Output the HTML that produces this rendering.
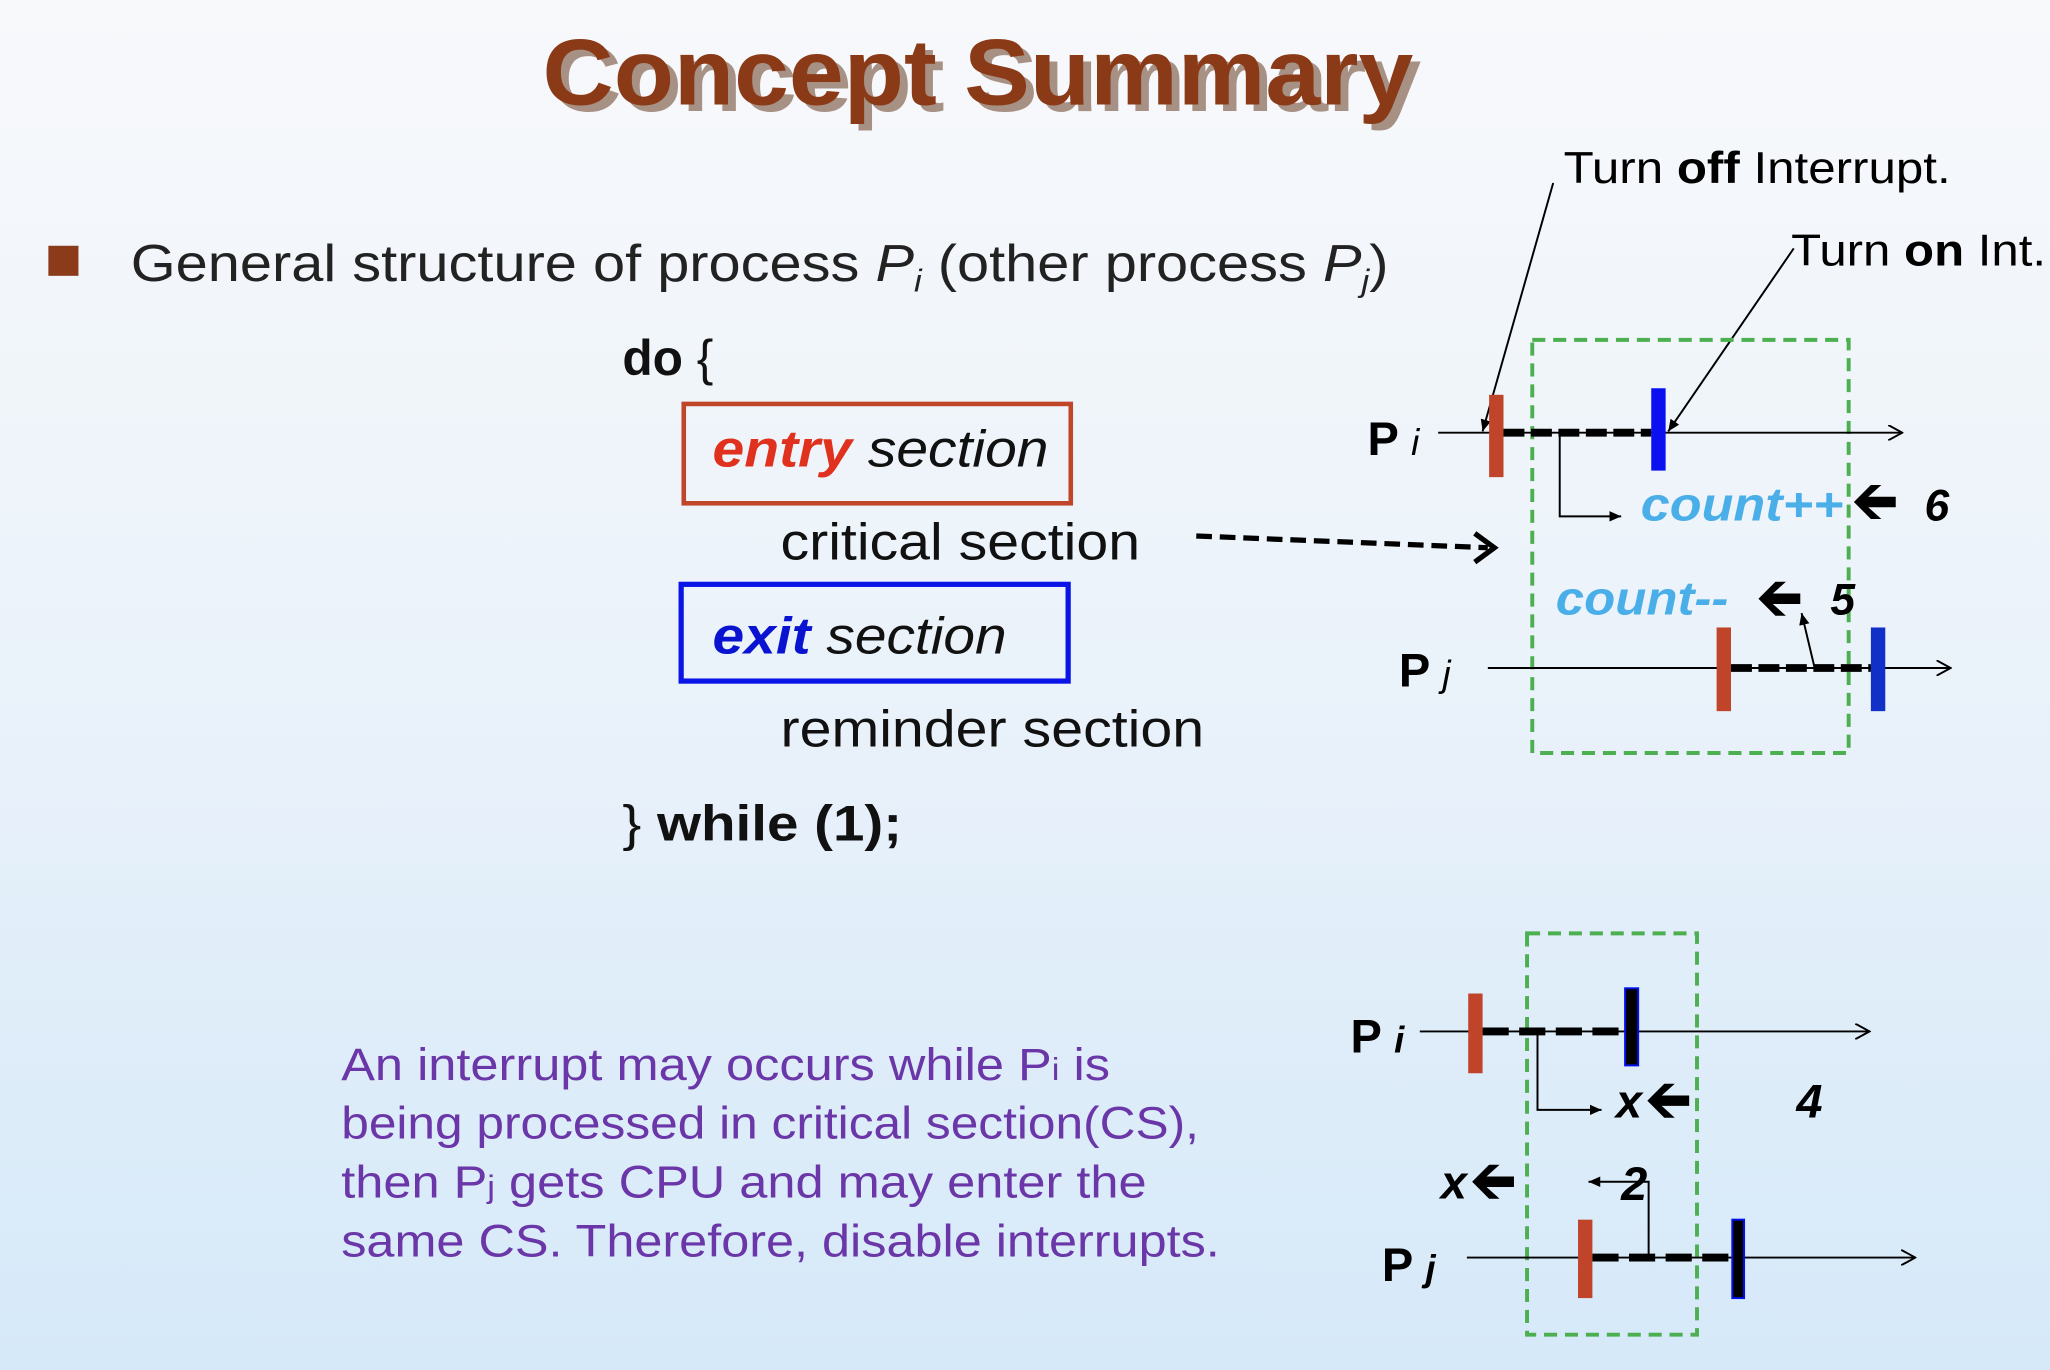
<!DOCTYPE html>
<html><head><meta charset="utf-8"><style>
html,body{margin:0;padding:0;width:2050px;height:1370px;overflow:hidden}
svg{display:block}
text{font-family:"Liberation Sans",sans-serif}
</style></head><body>
<svg width="2050" height="1370" viewBox="0 0 1568 1048" preserveAspectRatio="none" xmlns="http://www.w3.org/2000/svg">
<defs>
<linearGradient id="gt" x1="0" y1="0" x2="0" y2="1"><stop offset="0" stop-color="#f8f9fb"/><stop offset="1" stop-color="#e6f0fa"/></linearGradient>
<linearGradient id="gb" x1="0" y1="0" x2="0" y2="1"><stop offset="0" stop-color="#e3eff9"/><stop offset="1" stop-color="#d6e9f9"/></linearGradient>
<marker id="oa" markerWidth="12" markerHeight="12" refX="11" refY="6" orient="auto" markerUnits="userSpaceOnUse"><path d="M0,0 L11,6 L0,12" fill="none" stroke="#000" stroke-width="1.5"/></marker>
<marker id="sa" markerWidth="10" markerHeight="10" refX="9" refY="5" orient="auto" markerUnits="userSpaceOnUse"><path d="M0,1 L9,5 L0,9 Z" fill="#000"/></marker>
<path id="ta" d="M0,0 L13,-13 L21,-13 L11,-4 L32,-4 L32,4 L11,4 L21,13 L13,13 Z" fill="#000"/>
</defs>
<rect x="0" y="0" width="1568" height="662" fill="url(#gt)"/>
<rect x="0" y="662" width="1568" height="386" fill="url(#gb)"/>

<text x="418" y="82" font-size="72" font-weight="bold" fill="#5a2a10" opacity="0.5" textLength="666" lengthAdjust="spacingAndGlyphs" transform="translate(3,3)">Concept Summary</text>
<text x="415" y="80" font-size="72" font-weight="bold" fill="#8a3a16" textLength="666" lengthAdjust="spacingAndGlyphs">Concept Summary</text>

<rect x="37" y="188" width="23" height="23" fill="#8b3a1a"/>
<text x="100" y="215" font-size="40" fill="#222" textLength="962" lengthAdjust="spacingAndGlyphs">General structure of process <tspan font-style="italic">P</tspan><tspan font-style="italic" font-size="24" dy="8">i</tspan><tspan dy="-8"> (other process </tspan><tspan font-style="italic">P</tspan><tspan font-style="italic" font-size="24" dy="8">j</tspan><tspan dy="-8">)</tspan></text>

<text x="476" y="287" font-size="38" fill="#111"><tspan font-weight="bold">do</tspan> {</text>
<rect x="523" y="309" width="296" height="76" fill="none" stroke="#c0462a" stroke-width="3.5"/>
<text x="545" y="357" font-size="40" font-style="italic" fill="#111" textLength="257" lengthAdjust="spacingAndGlyphs"><tspan font-weight="bold" fill="#e0301e">entry</tspan> section</text>
<text x="597" y="428" font-size="40" fill="#111" textLength="275" lengthAdjust="spacingAndGlyphs">critical section</text>
<rect x="521" y="447" width="296" height="74" fill="none" stroke="#0a14e6" stroke-width="4"/>
<text x="545" y="500" font-size="40" font-style="italic" fill="#111" textLength="225" lengthAdjust="spacingAndGlyphs"><tspan font-weight="bold" fill="#0a14d0">exit</tspan> section</text>
<text x="597" y="571" font-size="40" fill="#111" textLength="324" lengthAdjust="spacingAndGlyphs">reminder section</text>
<text x="476" y="643" font-size="38" fill="#111" textLength="214" lengthAdjust="spacingAndGlyphs">} <tspan font-weight="bold">while (1);</tspan></text>

<line x1="915" y1="410" x2="1138" y2="419" stroke="#000" stroke-width="4" stroke-dasharray="12,6"/>
<path d="M1128,408 L1143,419 L1128,430" fill="none" stroke="#000" stroke-width="4"/>

<!-- top diagram -->
<text x="1196" y="140" font-size="34" fill="#000" textLength="296" lengthAdjust="spacingAndGlyphs">Turn <tspan font-weight="bold">off</tspan> Interrupt.</text>
<text x="1370" y="203" font-size="34" fill="#000" textLength="195" lengthAdjust="spacingAndGlyphs">Turn <tspan font-weight="bold">on</tspan> Int.</text>
<line x1="1188" y1="140" x2="1134" y2="330" stroke="#000" stroke-width="1.5" marker-end="url(#sa)"/>
<line x1="1372" y1="190" x2="1276" y2="330" stroke="#000" stroke-width="1.5" marker-end="url(#sa)"/>
<rect x="1172" y="260" width="242" height="316" fill="none" stroke="#4caf50" stroke-width="3" stroke-dasharray="10,6"/>
<text x="1046" y="348" font-size="36" font-weight="bold" fill="#000">P <tspan font-style="italic" font-weight="normal" font-size="28">i</tspan></text>
<line x1="1100" y1="331" x2="1455" y2="331" stroke="#000" stroke-width="1.5" marker-end="url(#oa)"/>
<line x1="1150" y1="331" x2="1263" y2="331" stroke="#000" stroke-width="6" stroke-dasharray="16,5"/>
<rect x="1139" y="302" width="11" height="63" fill="#c0442a"/>
<rect x="1263" y="297" width="11" height="63" fill="#0a10f0"/>
<path d="M1193,331 L1193,395 L1240,395" fill="none" stroke="#000" stroke-width="1.5" marker-end="url(#sa)"/>
<text x="1255" y="398" font-size="36" font-weight="bold" font-style="italic" fill="#4aaee8" textLength="155" lengthAdjust="spacingAndGlyphs">count++</text>
<use href="#ta" x="1418" y="384"/>
<text x="1472" y="398" font-size="34" font-weight="bold" font-style="italic" fill="#000">6</text>
<text x="1190" y="470" font-size="36" font-weight="bold" font-style="italic" fill="#4aaee8" textLength="132" lengthAdjust="spacingAndGlyphs">count--</text>
<use href="#ta" x="1345" y="458"/>
<text x="1400" y="470" font-size="34" font-weight="bold" font-style="italic" fill="#000">5</text>
<text x="1070" y="525" font-size="36" font-weight="bold" fill="#000">P <tspan font-style="italic" font-weight="normal" font-size="28">j</tspan></text>
<line x1="1138" y1="511" x2="1492" y2="511" stroke="#000" stroke-width="1.5" marker-end="url(#oa)"/>
<line x1="1324" y1="511" x2="1431" y2="511" stroke="#000" stroke-width="6" stroke-dasharray="16,5"/>
<rect x="1313" y="480" width="11" height="64" fill="#c0442a"/>
<rect x="1431" y="480" width="11" height="64" fill="#1030c8"/>
<line x1="1388" y1="511" x2="1378" y2="469" stroke="#000" stroke-width="1.5" marker-end="url(#sa)"/>

<!-- purple text -->
<g font-size="35" fill="#6a36a8">
<text x="261" y="826" textLength="588" lengthAdjust="spacingAndGlyphs">An interrupt may occurs while P<tspan font-size="24">i</tspan>  is</text>
<text x="261" y="871" textLength="656" lengthAdjust="spacingAndGlyphs">being processed in critical section(CS),</text>
<text x="261" y="916" textLength="616" lengthAdjust="spacingAndGlyphs">then P<tspan font-size="24">j</tspan>  gets CPU and may enter the</text>
<text x="261" y="961" textLength="672" lengthAdjust="spacingAndGlyphs">same CS.  Therefore, disable interrupts.</text>
</g>

<!-- bottom diagram -->
<rect x="1168" y="714" width="130" height="307" fill="none" stroke="#4caf50" stroke-width="3" stroke-dasharray="10,6"/>
<text x="1033" y="805" font-size="36" font-weight="bold" fill="#000">P <tspan font-style="italic" font-size="28">i</tspan></text>
<line x1="1086" y1="789" x2="1430" y2="789" stroke="#000" stroke-width="1.5" marker-end="url(#oa)"/>
<line x1="1134" y1="789" x2="1243" y2="789" stroke="#000" stroke-width="6" stroke-dasharray="20,8"/>
<rect x="1123" y="760" width="11" height="61" fill="#c0442a"/>
<rect x="1243" y="756" width="10" height="59" fill="#000" stroke="#0010f0" stroke-width="1.5"/>
<path d="M1176,789 L1176,849 L1225,849" fill="none" stroke="#000" stroke-width="1.5" marker-end="url(#sa)"/>
<text x="1236" y="855" font-size="36" font-weight="bold" font-style="italic" fill="#000">x</text>
<use href="#ta" x="1260" y="842"/>
<text x="1374" y="855" font-size="36" font-weight="bold" font-style="italic" fill="#000">4</text>
<text x="1102" y="917" font-size="36" font-weight="bold" font-style="italic" fill="#000">x</text>
<use href="#ta" x="1126" y="904"/>
<text x="1240" y="918" font-size="36" font-weight="bold" font-style="italic" fill="#000">2</text>
<path d="M1261,962 L1261,904 L1215,904" fill="none" stroke="#000" stroke-width="1.5" marker-end="url(#sa)"/>
<text x="1057" y="980" font-size="36" font-weight="bold" fill="#000">P <tspan font-style="italic" font-size="28">j</tspan></text>
<line x1="1122" y1="962" x2="1465" y2="962" stroke="#000" stroke-width="1.5" marker-end="url(#oa)"/>
<line x1="1218" y1="962" x2="1325" y2="962" stroke="#000" stroke-width="6" stroke-dasharray="20,8"/>
<rect x="1207" y="933" width="11" height="60" fill="#c0442a"/>
<rect x="1325" y="933" width="9" height="60" fill="#000" stroke="#0010f0" stroke-width="1.5"/>
</svg>
</body></html>
